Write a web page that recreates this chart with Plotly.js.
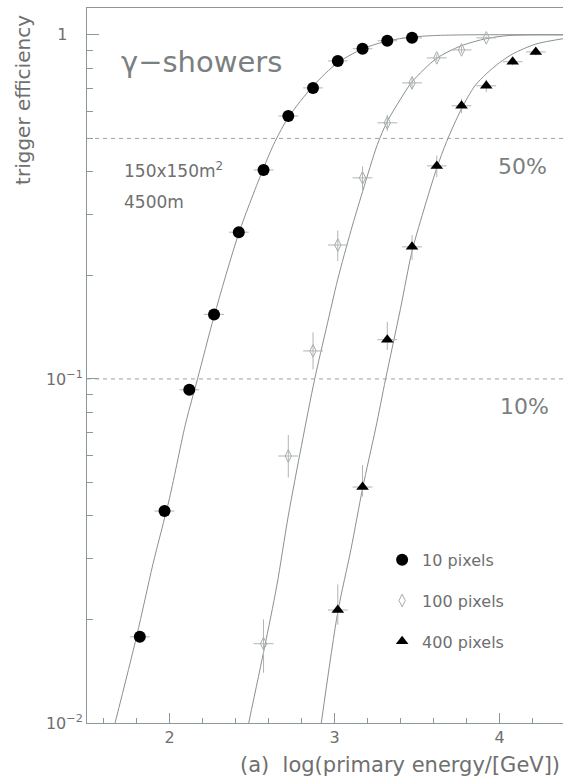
<!DOCTYPE html>
<html><head><meta charset="utf-8">
<script src="https://cdn.plot.ly/plotly-3.0.1.min.js"></script>
<style>html,body{margin:0;padding:0;background:#fff}#chart{width:563px;height:780px}</style>
</head><body><div id="chart"></div>
<script>
// ---- data ----
const seriesNames = ["10 pixels", "100 pixels", "400 pixels"];

const pix10X = [1.82, 1.97, 2.12, 2.27, 2.42, 2.57, 2.72, 2.87, 3.02, 3.17, 3.32, 3.47];
const pix10Y = [0.0178, 0.0413, 0.093, 0.154, 0.267, 0.405, 0.581, 0.701, 0.840, 0.911, 0.961, 0.980];

const pix100X = [2.57, 2.72, 2.87, 3.02, 3.17, 3.32, 3.47, 3.62, 3.77, 3.92];
const pix100Y = [0.0170, 0.0597, 0.1206, 0.245, 0.384, 0.555, 0.725, 0.857, 0.904, 0.980];
const pix100ErrUp = [0.003, 0.009, 0.016, 0.025, 0.03, 0.03, 0.03, 0.02, 0.02, 0.01];
const pix100ErrDn = [0.003, 0.008, 0.014, 0.025, 0.03, 0.03, 0.03, 0.02, 0.02, 0.01];

const pix400X = [3.02, 3.17, 3.32, 3.47, 3.62, 3.77, 3.92, 4.08, 4.22];
const pix400Y = [0.0213, 0.0485, 0.130, 0.242, 0.416, 0.622, 0.711, 0.835, 0.892];
const pix400ErrUp = [0.004, 0.0077, 0.0165, 0.02, 0.03, 0.03, 0.03, 0.02, 0.02];
const pix400ErrDn = [0.002, 0.003, 0.0086, 0.02, 0.03, 0.03, 0.03, 0.02, 0.02];

const xErr = 0.06;

const fit10X = [1.67, 1.8, 1.9, 2.0, 2.1, 2.17, 2.27, 2.42, 2.57, 2.64, 2.72, 2.87, 3.02, 3.17, 3.32, 3.47, 3.6, 3.8, 4.39];
const fit10Y = [0.01, 0.0178, 0.029, 0.045, 0.075, 0.1, 0.152, 0.265, 0.41, 0.49, 0.575, 0.71, 0.83, 0.91, 0.96, 0.985, 0.995, 1.0, 1.0];

const fit100X = [2.48, 2.575, 2.65, 2.72, 2.8, 2.88, 2.95, 3.02, 3.1, 3.17, 3.26, 3.32, 3.4, 3.47, 3.62, 3.77, 3.92, 4.05, 4.2, 4.39];
const fit100Y = [0.01, 0.0165, 0.025, 0.04, 0.064, 0.1, 0.14, 0.195, 0.27, 0.35, 0.48, 0.56, 0.65, 0.73, 0.855, 0.93, 0.975, 0.995, 1.0, 1.0];

const fit400X = [2.92, 3.02, 3.1, 3.17, 3.25, 3.31, 3.4, 3.47, 3.55, 3.62, 3.68, 3.77, 3.85, 3.92, 4.0, 4.08, 4.22, 4.39];
const fit400Y = [0.01, 0.021, 0.032, 0.048, 0.072, 0.1, 0.16, 0.235, 0.32, 0.41, 0.49, 0.61, 0.71, 0.77, 0.83, 0.88, 0.94, 0.975];

const refLevels = [0.5, 0.1];
const refLabels = ["50%", "10%"];

const yTickVals = [0.01, 0.1, 1];
const yTickText = ["10<sup>−2</sup>", "10<sup>−1</sup>", "1\u00a0\u00a0\u00a0"];
const xTickVals = [2, 3, 4];

// ---- styling ----
const FONT = "DejaVu Sans, Liberation Sans, sans-serif";
const TXT = "#6f6f6f";
const AX = "#8c9898";
const LN = "#8a9090";
const EB = "#b0b4b4";

function fit(x, y) {
  return {x, y, type: "scatter", mode: "lines", showlegend: false, hoverinfo: "skip",
          line: {color: LN, width: 1, shape: "spline", smoothing: 0.8}};
}

const traces = [
  fit(fit10X, fit10Y), fit(fit100X, fit100Y), fit(fit400X, fit400Y),
  {x: pix10X, y: pix10Y, type: "scatter", mode: "markers", name: seriesNames[0], legendgroup: "a",
   marker: {symbol: "circle", size: 12, color: "#000"},
   error_x: {type: "constant", value: xErr, color: EB, thickness: 1, width: 0}},
  {x: pix100X, y: pix100Y, type: "scatter", mode: "markers", name: seriesNames[1], legendgroup: "b",
   marker: {symbol: "diamond-tall-open", size: 9, color: "#a8acac", line: {width: 1, color: "#a8acac"}},
   error_x: {type: "constant", value: xErr, color: EB, thickness: 1, width: 0},
   error_y: {type: "data", symmetric: false, array: pix100ErrUp, arrayminus: pix100ErrDn, color: EB, thickness: 1, width: 0}},
  {x: pix400X, y: pix400Y, type: "scatter", mode: "markers", name: seriesNames[2], legendgroup: "c",
   marker: {symbol: "triangle-up", size: 11, color: "#000"},
   error_x: {type: "constant", value: xErr, color: EB, thickness: 1, width: 0},
   error_y: {type: "data", symmetric: false, array: pix400ErrUp, arrayminus: pix400ErrDn, color: EB, thickness: 1, width: 0}}
];

const shapes = refLevels.map(v => ({type: "line", xref: "paper", x0: 0, x1: 1, yref: "y", y0: v, y1: v,
  line: {color: "#9aa4a4", width: 1, dash: "4px,4px"}}));

const annotations = [
  {text: "trigger efficiency", xref: "paper", yref: "paper", x: -0.133, xanchor: "center", y: 0.871, yanchor: "middle",
   textangle: -90, showarrow: false, font: {family: FONT, size: 20, color: TXT}},
  {text: "(a)  log(primary energy/[GeV])", xref: "paper", yref: "paper", x: 0.997, xanchor: "right", y: -0.059,
   yanchor: "middle", showarrow: false, font: {family: FONT, size: 21, color: TXT}},
  {text: "γ−showers", xref: "paper", yref: "paper", x: 0.067, xanchor: "left", y: 0.925, yanchor: "middle",
   showarrow: false, font: {family: FONT, size: 29, color: "#7a7f7f"}},
  {text: "150x150m<sup>2</sup>", xref: "paper", yref: "paper", x: 0.073, xanchor: "left", y: 0.774, yanchor: "middle",
   showarrow: false, font: {family: FONT, size: 17, color: TXT}},
  {text: "4500m", xref: "paper", yref: "paper", x: 0.073, xanchor: "left", y: 0.729, yanchor: "middle",
   showarrow: false, font: {family: FONT, size: 17, color: TXT}},
  {text: refLabels[0], xref: "paper", yref: "paper", x: 0.97, xanchor: "right", y: 0.778, yanchor: "middle",
   showarrow: false, font: {family: FONT, size: 22, color: "#7a7f7f"}},
  {text: refLabels[1], xref: "paper", yref: "paper", x: 0.975, xanchor: "right", y: 0.442, yanchor: "middle",
   showarrow: false, font: {family: FONT, size: 22, color: "#7a7f7f"}}
];

const layout = {
  width: 563, height: 780,
  margin: {l: 87, r: 0, t: 8, b: 57},
  paper_bgcolor: "#fff", plot_bgcolor: "#fff",
  font: {family: FONT, color: TXT},
  showlegend: true,
  legend: {x: 0.62, xanchor: "left", y: 0.252, yanchor: "top", bgcolor: "rgba(0,0,0,0)",
           font: {family: FONT, size: 16, color: TXT}, tracegroupgap: 17},
  xaxis: {type: "linear", range: [1.5, 4.385], tickvals: xTickVals, ticks: "inside", ticklen: 10,
          tickcolor: AX, showline: true, linecolor: AX, linewidth: 1, mirror: true, showgrid: false, zeroline: false,
          tickfont: {family: FONT, size: 16, color: TXT},
          minor: {dtick: 0.2, ticks: "inside", ticklen: 5, tickcolor: AX, showgrid: false}},
  yaxis: {type: "log", range: [-2, 0.078], tickvals: yTickVals, ticktext: yTickText, ticks: "inside", ticklen: 12,
          tickcolor: AX, showline: true, linecolor: AX, linewidth: 1, mirror: false, showgrid: false, zeroline: false,
          tickfont: {family: FONT, size: 16, color: TXT},
          minor: {dtick: "D1", ticks: "inside", ticklen: 6, tickcolor: AX, showgrid: false}},
  shapes, annotations
};

Plotly.newPlot("chart", traces, layout, {displayModeBar: false, staticPlot: true});
</script></body></html>
